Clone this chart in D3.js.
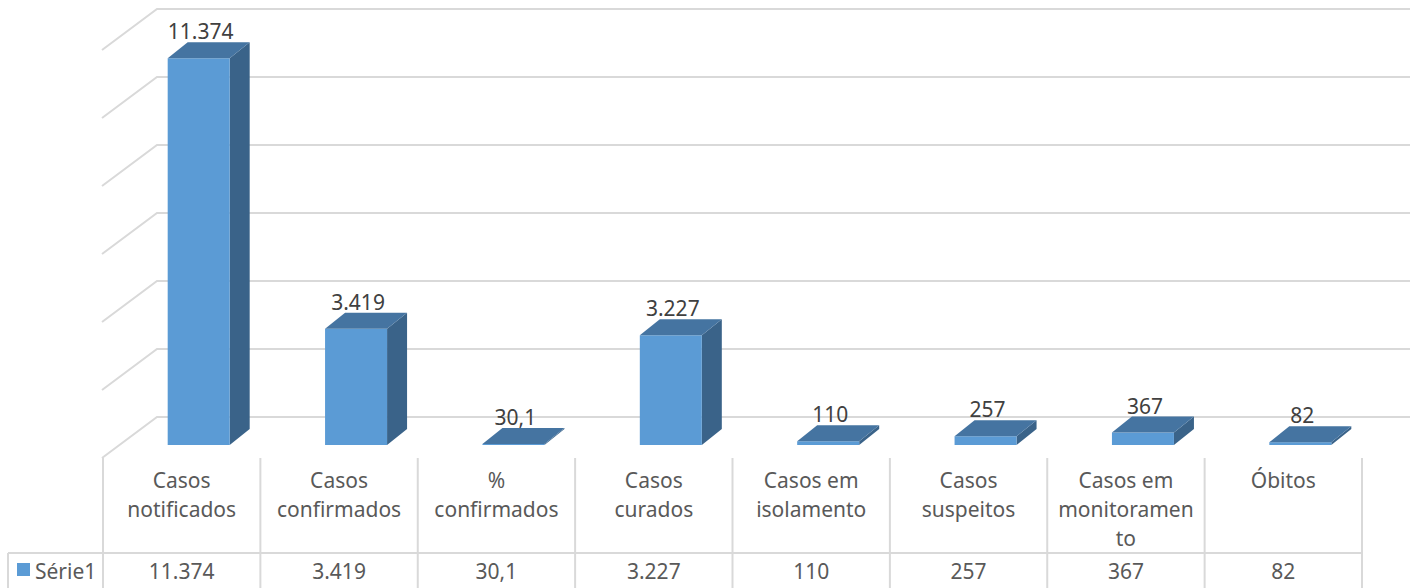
<!DOCTYPE html>
<html>
<head>
<meta charset="utf-8">
<script src="https://cdn.jsdelivr.net/npm/d3@7"></script>
<style>
  body { margin: 0; background: #fff; }
  svg { display: block; font-family: "Noto Sans", "Open Sans", sans-serif; }
</style>
</head>
<body>
<svg width="1410" height="588"></svg>
<script>
// data
const categories = ["Casos\nnotificados", "Casos\nconfirmados", "%\nconfirmados", "Casos\ncurados",
  "Casos em\nisolamento", "Casos\nsuspeitos", "Casos em\nmonitoramen\nto", "Óbitos"];
const values = [11374, 3419, 30.1, 3227, 110, 257, 367, 82];
const seriesName = "Série1";
const yTicks = [0, 2000, 4000, 6000, 8000, 10000, 12000];

const svg = d3.select('svg');
const fmt = d3.formatLocale({decimal: ",", thousands: ".", grouping: [3], currency: ["R$", ""]}).format(",");

// geometry of the 3d box
const left = 103, right = 1362;
const wallDx = 55, wallDy = -41;      // full depth of floor
const barDx = 20, barDy = -16;        // depth of a bar
const floorFront = 458;
const barBase = 445;                  // bar front bottom (bars sit mid-depth)
const barShift = 17;

const x = d3.scaleBand().domain(d3.range(categories.length)).range([left, right]);
const y = d3.scaleLinear().domain([0, 12000]).range([floorFront + wallDy, floorFront + wallDy - 408]);
const h = d3.scaleLinear().domain([0, 12000]).range([0, 408]);

const grid = svg.append('g').attr('stroke', '#d9d9d9').attr('stroke-width', 2).attr('fill', 'none');
yTicks.forEach(t => {
  const yy = y(t);
  grid.append('polyline')
    .attr('points', `${left - 1},${yy - wallDy} ${left - 1 + wallDx},${yy} 1410,${yy}`);
});

// bars
const barW = 62;
const bars = svg.append('g');
values.forEach((v, i) => {
  const cx = x(i) + x.bandwidth() / 2 + barShift;
  const x0 = cx - barW / 2, x1 = cx + barW / 2;
  const yb = barBase, yt = barBase - h(v);
  // side
  bars.append('path')
    .attr('d', `M${x1},${yb}L${x1 + barDx},${yb + barDy}L${x1 + barDx},${yt + barDy}L${x1},${yt}Z`)
    .attr('fill', '#3a6389');
  // front
  bars.append('rect')
    .attr('x', x0).attr('y', yt).attr('width', barW).attr('height', Math.max(yb - yt, 0.8))
    .attr('fill', '#5b9bd5');
  // top
  bars.append('path')
    .attr('d', `M${x0},${yt}L${x0 + barDx},${yt + barDy}L${x1 + barDx},${yt + barDy}L${x1},${yt}Z`)
    .attr('fill', '#4574a1');
  bars.append('text')
    .attr('x', cx + 2).attr('y', yt + barDy - 3)
    .attr('text-anchor', 'middle')
    .attr('font-size', 21).attr('fill', '#404040')
    .text(fmt(v));
});

// data table
const tableTop = floorFront, rowLine = 553, bottom = 588;
const tbl = svg.append('g').attr('stroke', '#d9d9d9').attr('stroke-width', 2);
d3.range(categories.length + 1).forEach(i => {
  const xx = i < categories.length ? x(i) : right;
  tbl.append('line').attr('x1', xx).attr('x2', xx).attr('y1', tableTop).attr('y2', bottom);
});
tbl.append('line').attr('x1', 8).attr('x2', right).attr('y1', rowLine).attr('y2', rowLine);
tbl.append('line').attr('x1', 8).attr('x2', 8).attr('y1', rowLine).attr('y2', bottom);

const txt = svg.append('g').attr('font-size', 21).attr('fill', '#595959').attr('text-anchor', 'middle');
categories.forEach((c, i) => {
  const t = txt.append('text').attr('x', x(i) + x.bandwidth() / 2).attr('y', 488);
  c.split('\n').forEach((line, k) => {
    t.append('tspan').attr('x', x(i) + x.bandwidth() / 2).attr('dy', k === 0 ? 0 : 29).text(line);
  });
  txt.append('text').attr('x', x(i) + x.bandwidth() / 2).attr('y', 579).text(fmt(values[i]));
});

svg.append('rect').attr('x', 17).attr('y', 563).attr('width', 13).attr('height', 13).attr('fill', '#5b9bd5');
svg.append('text').attr('x', 35).attr('y', 579).attr('font-size', 21).attr('fill', '#595959').text(seriesName);
</script>
</body>
</html>
